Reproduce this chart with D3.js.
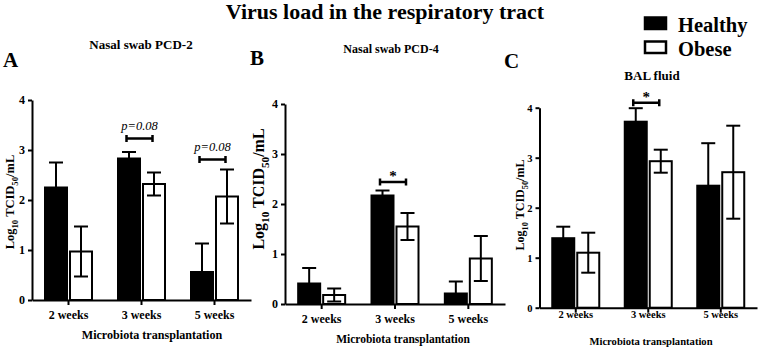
<!DOCTYPE html>
<html lang="en">
<head>
<meta charset="UTF-8">
<title>Virus load in the respiratory tract</title>
<script src="https://d3js.org/d3.v7.min.js"></script>
<style>
    body { margin: 0; background: white; }
    text { font-family: "Liberation Serif", "Times New Roman", serif; font-weight: bold; fill: black; }
</style>
</head>
<body>
<div id="chart"></div>
<script>
    // values (log10 TCID50/mL, mean and error)
    const weeks = ["2 weeks", "3 weeks", "5 weeks"]
    const groups = ["Healthy", "Obese"]
    const yTicks = [0, 1, 2, 3, 4]

    const pcd2Healthy = [2.25, 2.83, 0.56]
    const pcd2HealthyErr = [0.50, 0.13, 0.57]
    const pcd2Obese = [0.97, 2.32, 2.07]
    const pcd2ObeseErr = [0.50, 0.23, 0.54]

    const pcd4Healthy = [0.41, 2.17, 0.21]
    const pcd4HealthyErr = [0.31, 0.10, 0.24]
    const pcd4Obese = [0.18, 1.55, 0.91]
    const pcd4ObeseErr = [0.13, 0.27, 0.45]

    const balHealthy = [1.39, 3.72, 2.44]
    const balHealthyErr = [0.23, 0.27, 0.85]
    const balObese = [1.10, 2.93, 2.71]
    const balObeseErr = [0.40, 0.23, 0.93]

    const pcd2Sig = [{week: "3 weeks", label: "p=0.08", level: 3.23}, {week: "5 weeks", label: "p=0.08", level: 2.81}]
    const pcd4Sig = [{week: "3 weeks", label: "*", level: 2.44}]
    const balSig = [{week: "3 weeks", label: "*", level: 4.1}]

    const panels = [
        {letter: "A", title: "Nasal swab PCD-2", healthy: pcd2Healthy, healthyErr: pcd2HealthyErr, obese: pcd2Obese, obeseErr: pcd2ObeseErr, sig: pcd2Sig},
        {letter: "B", title: "Nasal swab PCD-4", healthy: pcd4Healthy, healthyErr: pcd4HealthyErr, obese: pcd4Obese, obeseErr: pcd4ObeseErr, sig: pcd4Sig},
        {letter: "C", title: "BAL fluid", healthy: balHealthy, healthyErr: balHealthyErr, obese: balObese, obeseErr: balObeseErr, sig: balSig}
    ]

    // where each panel sits on the page
    const layout = [
        {left: 32, right: 251, y0: 300, y4: 100, letterX: 3, letterY: 67, titleX: 141, titleY: 49, titleSize: 13,
         ylabX: 14, ylabY: 202, ylabSize: 12.5, tickSize: 12, xPad: 5.5, xTitleX: 152, xTitleY: 339, xTitleSize: 12.1},
        {left: 285, right: 505, y0: 304, y4: 104, letterX: 250, letterY: 65, titleX: 391, titleY: 53, titleSize: 12,
         ylabX: 264, ylabY: 189, ylabSize: 16, tickSize: 12, xPad: 5.5, xTitleX: 403, xTitleY: 343, xTitleSize: 11.5},
        {left: 539.5, right: 757, y0: 307.7, y4: 107.7, letterX: 504, letterY: 68, titleX: 652, titleY: 80, titleSize: 13,
         ylabX: 524, ylabY: 205, ylabSize: 12, tickSize: 10.5, xPad: -2, xTitleX: 651, xTitleY: 345, xTitleSize: 10.6}
    ]

    const width = 760
    const height = 351

    const svg = d3.select("#chart").append("svg")
        .attr("width", width)
        .attr("height", height)

    svg.append("text")
        .attr("x", 385)
        .attr("y", 19)
        .attr("text-anchor", "middle")
        .style("font-size", "22px")
        .text("Virus load in the respiratory tract")

    // legend
    const legend = svg.append("g")
    groups.forEach((g, i) => {
        legend.append("rect")
            .attr("x", 645)
            .attr("y", 17.5 + i * 24)
            .attr("width", 21)
            .attr("height", 11.5)
            .attr("fill", i == 0 ? "black" : "white")
            .attr("stroke", "black")
            .attr("stroke-width", 2.5)
        legend.append("text")
            .attr("x", 678)
            .attr("y", 31.5 + i * 24)
            .style("font-size", "20.5px")
            .text(g)
    })

    panels.forEach((p, k) => {
        const L = layout[k]
        const g = svg.append("g")

        const xScale = d3.scaleBand().domain(weeks).range([L.left, L.right])
        const yScale = d3.scaleLinear().domain([0, 4]).range([L.y0, L.y4])
        const center = w => xScale(w) + xScale.bandwidth() / 2
        const xInner = d3.scaleBand().domain(groups).range([-23.5, 23.5]).paddingInner(0.12)

        const rows = []
        weeks.forEach((w, i) => {
            rows.push({week: w, group: "Healthy", v: p.healthy[i], e: p.healthyErr[i]})
            rows.push({week: w, group: "Obese", v: p.obese[i], e: p.obeseErr[i]})
        })

        // bars
        g.selectAll("rect.bar")
            .data(rows)
            .join("rect")
            .attr("class", "bar")
            .attr("x", d => center(d.week) + xInner(d.group))
            .attr("width", xInner.bandwidth())
            .attr("y", d => yScale(d.v))
            .attr("height", d => yScale(0) - yScale(d.v))
            .attr("fill", d => d.group == "Healthy" ? "black" : "white")
            .attr("stroke", "black")
            .attr("stroke-width", 2)

        // error bars
        const mid = d => center(d.week) + xInner(d.group) + xInner.bandwidth() / 2
        const lo = d => Math.max(0, d.v - d.e)
        const err = g.selectAll("g.err").data(rows).join("g").attr("class", "err")
            .attr("stroke", "black").attr("stroke-width", 2)
        err.append("line")
            .attr("x1", mid).attr("x2", mid)
            .attr("y1", d => yScale(lo(d))).attr("y2", d => yScale(d.v + d.e))
        err.append("line")
            .attr("x1", d => mid(d) - 7).attr("x2", d => mid(d) + 7)
            .attr("y1", d => yScale(d.v + d.e)).attr("y2", d => yScale(d.v + d.e))
        err.filter(d => d.group == "Obese").append("line")
            .attr("x1", d => mid(d) - 7).attr("x2", d => mid(d) + 7)
            .attr("y1", d => yScale(lo(d))).attr("y2", d => yScale(lo(d)))

        // axes
        const yAxis = d3.axisLeft(yScale).tickValues(yTicks).tickSize(4).tickSizeOuter(0).tickPadding(3).tickFormat(d3.format("d"))
        const ya = g.append("g")
            .attr("transform", "translate(" + L.left + ",0)")
            .call(yAxis)
        const xAxis = d3.axisBottom(xScale).tickSize(5).tickSizeOuter(0).tickPadding(L.xPad)
        const xa = g.append("g")
            .attr("transform", "translate(0," + L.y0 + ")")
            .call(xAxis)
        ;[ya, xa].forEach(a => {
            a.select(".domain").attr("stroke-width", 2)
            a.selectAll(".tick line").attr("stroke-width", 2)
            a.selectAll("text")
                .style("font-family", "'Liberation Serif', serif")
                .style("font-weight", "bold")
                .style("font-size", L.tickSize + "px")
                .attr("fill", "black")
        })

        // significance brackets
        const sig = g.selectAll("g.sig").data(p.sig).join("g").attr("class", "sig")
        sig.append("path")
            .attr("d", d => {
                const x1 = center(d.week) - 15, x2 = center(d.week) + 11, y = yScale(d.level)
                return "M" + x1 + "," + (y - 3.5) + "V" + (y + 3.5) + "M" + x1 + "," + y + "H" + x2 + "M" + x2 + "," + (y - 3.5) + "V" + (y + 3.5)
            })
            .attr("fill", "none")
            .attr("stroke", "black")
            .attr("stroke-width", 2.5)
        sig.append("text")
            .attr("x", d => center(d.week) - 2)
            .attr("y", d => yScale(d.level) - (d.label == "*" ? 1 : 8.5))
            .attr("text-anchor", "middle")
            .style("font-weight", d => d.label == "*" ? "bold" : "normal")
            .style("font-style", d => d.label == "*" ? "normal" : "italic")
            .style("font-size", d => d.label == "*" ? "15px" : "12.5px")
            .text(d => d.label)

        // labels
        g.append("text")
            .attr("x", L.letterX)
            .attr("y", L.letterY)
            .style("font-size", "21px")
            .text(p.letter)
        g.append("text")
            .attr("x", L.titleX)
            .attr("y", L.titleY)
            .attr("text-anchor", "middle")
            .style("font-size", L.titleSize + "px")
            .text(p.title)
        g.append("text")
            .attr("x", L.xTitleX)
            .attr("y", L.xTitleY)
            .attr("text-anchor", "middle")
            .style("font-size", L.xTitleSize + "px")
            .text("Microbiota transplantation")

        const yl = g.append("text")
            .attr("transform", "translate(" + L.ylabX + "," + L.ylabY + ") rotate(-90)")
            .attr("text-anchor", "middle")
            .style("font-size", L.ylabSize + "px")
        const sub = L.ylabSize * 0.3
        yl.append("tspan").text("Log")
        yl.append("tspan").attr("dy", sub).style("font-size", (L.ylabSize * 0.7) + "px").text("10")
        yl.append("tspan").attr("dy", -sub).text(" TCID")
        yl.append("tspan").attr("dy", sub).style("font-size", (L.ylabSize * 0.7) + "px").text("50")
        yl.append("tspan").attr("dy", -sub).text("/mL")
    })
</script>
</body>
</html>
